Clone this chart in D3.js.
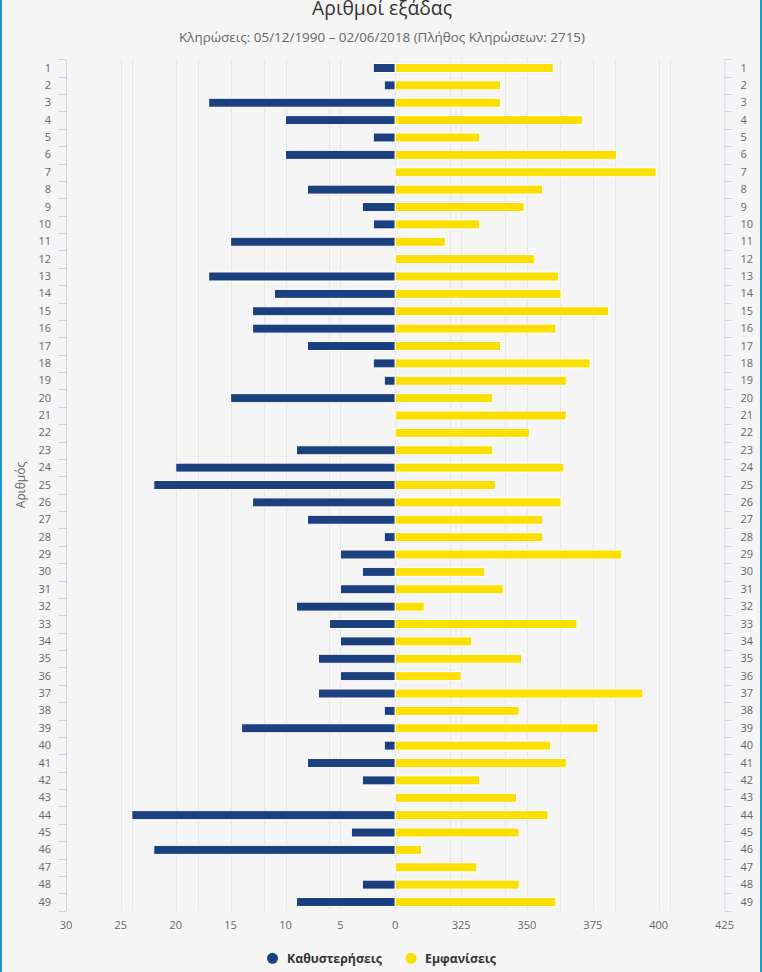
<!DOCTYPE html>
<html>
<head>
<meta charset="utf-8">
<script src="https://cdn.jsdelivr.net/npm/d3@7"></script>
<style>
  html, body { margin: 0; padding: 0; background: #f5f5f5; }
  svg { display: block; }
  text { font-family: "Open Sans", "Noto Sans", sans-serif; }
</style>
</head>
<body>
<svg id="chart" width="762" height="972"></svg>
<script>
// ---- data ----
const categories = ["1","2","3","4","5","6","7","8","9","10","11","12","13","14","15","16","17","18","19","20","21","22","23","24","25","26","27","28","29","30","31","32","33","34","35","36","37","38","39","40","41","42","43","44","45","46","47","48","49"];
const delays = [2,1,17,10,2,10,0,8,3,2, 15,0,17,11,13,13,8,2,1,15, 0,0,9,20,22,13,8,1,5,3, 5,9,6,5,7,5,7,1,14,1, 8,3,0,24,4,22,0,3,9];
const appearances = [360,340,340,371,332,384,399,356,349,332, 319,353,362,363,381,361,340,374,365,337, 365,351,337,364,338,363,356,356,386,334, 341,311,369,329,348,325,394,347,377,359, 365,332,346,358,347,310,331,347,361];
const leftTicks = [30,25,20,15,10,5,0];
const rightTicks = [325,350,375,400,425];
const seriesNames = ["Καθυστερήσεις", "Εμφανίσεις"];
const titleText = "Αριθμοί εξάδας";
const subtitleText = "Κληρώσεις: 05/12/1990 – 02/06/2018 (Πλήθος Κληρώσεων: 2715)";
const yAxisTitle = "Αριθμός";

// ---- layout ----
const W = 762, H = 972;
const plotL = 66, plotR = 724.5, plotT = 59.3, plotB = 910.7;
const colBlue = "#1b3f7f", colYellow = "#fbdf00";

const svg = d3.select("#chart");
svg.append("rect").attr("width", W).attr("height", H).attr("fill", "#f5f5f5");

const xLeft = d3.scaleLinear().domain([30, -30]).range([plotL, plotR]);
const xRight = d3.scaleLinear().domain([175, 425]).range([plotL, plotR]);
const y = d3.scaleBand().domain(categories).range([plotT, plotB]);

// gridlines (both axes span whole plot)
const grid = svg.append("g");
const leftGrid = d3.range(-25, 30, 5);
const rightGrid = d3.range(200, 425, 25);
leftGrid.forEach(v => {
  const x = Math.round(xLeft(v)) + 0.5;
  grid.append("line").attr("x1", x).attr("x2", x).attr("y1", plotT).attr("y2", plotB)
    .attr("stroke", "#e6e6e6").attr("stroke-width", 1);
});
rightGrid.forEach(v => {
  const x = Math.round(xRight(v)) + 0.5;
  grid.append("line").attr("x1", x).attr("x2", x).attr("y1", plotT).attr("y2", plotB)
    .attr("stroke", "#e6e6e6").attr("stroke-width", 1);
});

// category axes
const axisColor = "#ccd6eb";
const leftAxis = d3.axisLeft(y).tickSize(0).tickPadding(15);
const gL = svg.append("g").attr("transform", `translate(${plotL},0)`).call(leftAxis);
const rightAxis = d3.axisRight(y).tickSize(0).tickPadding(16);
const gR = svg.append("g").attr("transform", `translate(${plotR},0)`).call(rightAxis);
[gL, gR].forEach(g => {
  g.select(".domain").attr("stroke", axisColor);
  g.selectAll("text").attr("fill", "#666").attr("font-size", 11);
});
// tick marks between categories
const bounds = categories.map(c => y(c)).concat([plotB]);
bounds.forEach(b => {
  const yy = Math.round(b) + 0.5;
  gL.append("line").attr("x1", -8).attr("x2", 0).attr("y1", yy).attr("y2", yy).attr("stroke", axisColor);
  gR.append("line").attr("x1", 0).attr("x2", 8).attr("y1", yy).attr("y2", yy).attr("stroke", axisColor);
});

// bars
const barH = 9;
const bars = svg.append("g");
const center = xLeft(0);
categories.forEach((c, i) => {
  const cy = y(c) + y.bandwidth() / 2;
  const xl = xLeft(delays[i]);
  bars.append("rect")
    .attr("x", xl).attr("y", cy - barH / 2)
    .attr("width", center - xl).attr("height", barH)
    .attr("fill", colBlue).attr("stroke", "#ffffff").attr("stroke-width", 1);
  const xr = xRight(appearances[i]);
  bars.append("rect")
    .attr("x", center).attr("y", cy - barH / 2)
    .attr("width", xr - center).attr("height", barH)
    .attr("fill", colYellow).attr("stroke", "#ffffff").attr("stroke-width", 1);
});

// value axes (labels only)
const bottom = svg.append("g");
leftTicks.forEach(v => {
  bottom.append("text").attr("x", xLeft(v)).attr("y", 929)
    .attr("text-anchor", "middle").attr("fill", "#666").attr("font-size", 11).text(v);
});
rightTicks.forEach(v => {
  bottom.append("text").attr("x", xRight(v)).attr("y", 929)
    .attr("text-anchor", "middle").attr("fill", "#666").attr("font-size", 11).text(v);
});

// helper to fit text to a target width
function fit(sel, target) {
  const w = sel.node().getComputedTextLength();
  const fs = parseFloat(sel.attr("font-size"));
  sel.attr("font-size", (fs * target / w).toFixed(2));
}

// title & subtitle
const t = svg.append("text").attr("x", 382).attr("y", 15).attr("text-anchor", "middle")
  .attr("fill", "#333").attr("font-size", 18).text(titleText);
fit(t, 140);
const st = svg.append("text").attr("x", 382).attr("y", 41.5).attr("text-anchor", "middle")
  .attr("fill", "#666").attr("font-size", 12).text(subtitleText);
fit(st, 406);

// y-axis title
svg.append("text").attr("transform", `translate(25,485) rotate(-90)`)
  .attr("text-anchor", "middle").attr("fill", "#666").attr("font-size", 12).text(yAxisTitle);

// legend
const legend = svg.append("g");
const legendItems = [
  {name: seriesNames[0], color: colBlue, cx: 272.5, tx: 287, w: 95},
  {name: seriesNames[1], color: colYellow, cx: 411, tx: 425, w: 71}
];
legendItems.forEach(d => {
  legend.append("circle").attr("cx", d.cx).attr("cy", 958.3).attr("r", 5.5).attr("fill", d.color);
  const lt = legend.append("text").attr("x", d.tx).attr("y", 962.5).attr("fill", "#333")
    .attr("font-size", 12).attr("font-weight", "bold").text(d.name);
  fit(lt, d.w);
});

// container side borders
svg.append("rect").attr("x", 0).attr("y", 0).attr("width", 2).attr("height", H).attr("fill", "#2196d3");
svg.append("rect").attr("x", W - 2).attr("y", 0).attr("width", 2).attr("height", H).attr("fill", "#2196d3");
</script>
</body>
</html>
